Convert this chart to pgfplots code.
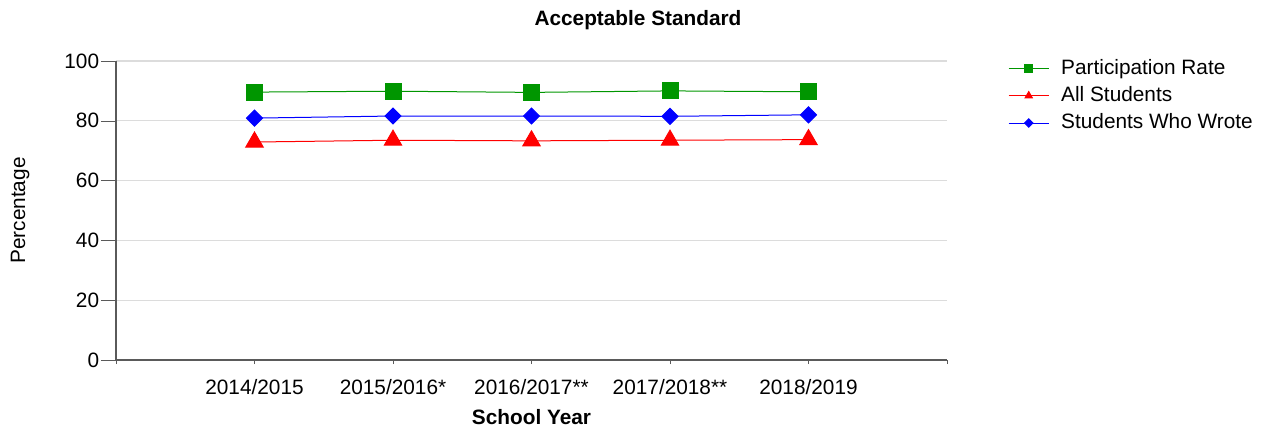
\documentclass[border=0pt]{standalone}
\usepackage{fontspec}
\setmainfont{Liberation Sans}
\usepackage{pgfplots}
\pgfplotsset{compat=1.18}
\definecolor{pgreen}{RGB}{0,150,0}
\definecolor{pred}{RGB}{255,0,0}
\definecolor{pblue}{RGB}{0,0,255}
\definecolor{axgray}{RGB}{90,90,90}
\definecolor{gridgray}{RGB}{220,220,220}
\begin{document}
\fontsize{10.4}{12.5}\selectfont
\begin{tikzpicture}[x=1pt,y=1pt]
\useasboundingbox (0,0) rectangle (631,214);
\begin{axis}[
  at={(58pt,34pt)}, anchor=south west,
  scale only axis, width=415.5pt, height=149.5pt,
  xmin=-1, xmax=5, ymin=0, ymax=100,
  xtick={-1,0,1,2,3,4,5},
  xticklabels={,2014/2015,2015/2016*,2016/2017**,2017/2018**,2018/2019,},
  ytick={0,20,40,60,80,100},
  axis x line*=bottom, axis y line*=left,
  axis line style={color=axgray, line width=0.7pt},
  ymajorgrids, grid style={color=gridgray, line width=0.6pt},
  tick align=outside,
  xtick style={color=axgray, /pgfplots/major tick length=2pt},
  ytick style={color=axgray, /pgfplots/major tick length=7.5pt},
  /pgf/number format/assume math mode=true,
  tick label style={font=\fontsize{10.4}{12.5}\selectfont},
  xticklabel style={yshift=-2pt},
  yticklabel style={xshift=-0.5pt},
  xlabel={\bfseries School Year},
  ylabel={Percentage},
  xlabel style={at={(rel axis cs:0.5,-0.19)}, anchor=center},
  ylabel style={at={(rel axis cs:-0.1155,0.5)}, anchor=center},
  legend style={draw=none, fill=none, at={(1.066,1.033)}, anchor=north west,
    font=\fontsize{10.4}{12.5}\selectfont, row sep=0.5pt},
  legend cell align=left,
  legend image code/.code={\draw[mark repeat=2,mark phase=2,mark size=2.1pt] plot coordinates {(0pt,0pt)(10pt,0pt)(20pt,0pt)}; \path (24pt,0pt);},
]
\addplot[color=pgreen, line width=0.5pt, mark=square*, mark size=4pt, mark options={fill=pgreen, draw=pgreen}]
  coordinates {(0,89.6) (1,89.9) (2,89.5) (3,90.0) (4,89.7)};
\addlegendentry{Participation Rate}
\addplot[color=pred, line width=0.5pt, mark=triangle*, mark size=5pt, mark options={fill=pred, draw=pred}]
  coordinates {(0,72.9) (1,73.5) (2,73.3) (3,73.5) (4,73.7)};
\addlegendentry{All Students}
\addplot[color=pblue, line width=0.5pt, mark=diamond*, mark size=4pt, mark options={fill=pblue, draw=pblue, xscale=1.33}]
  coordinates {(0,80.9) (1,81.6) (2,81.6) (3,81.5) (4,82.0)};
\addlegendentry{Students Who Wrote}
\end{axis}
\node[font=\bfseries\fontsize{10.4}{12.5}\selectfont] at (319,204) {Acceptable Standard};
\end{tikzpicture}
\end{document}
